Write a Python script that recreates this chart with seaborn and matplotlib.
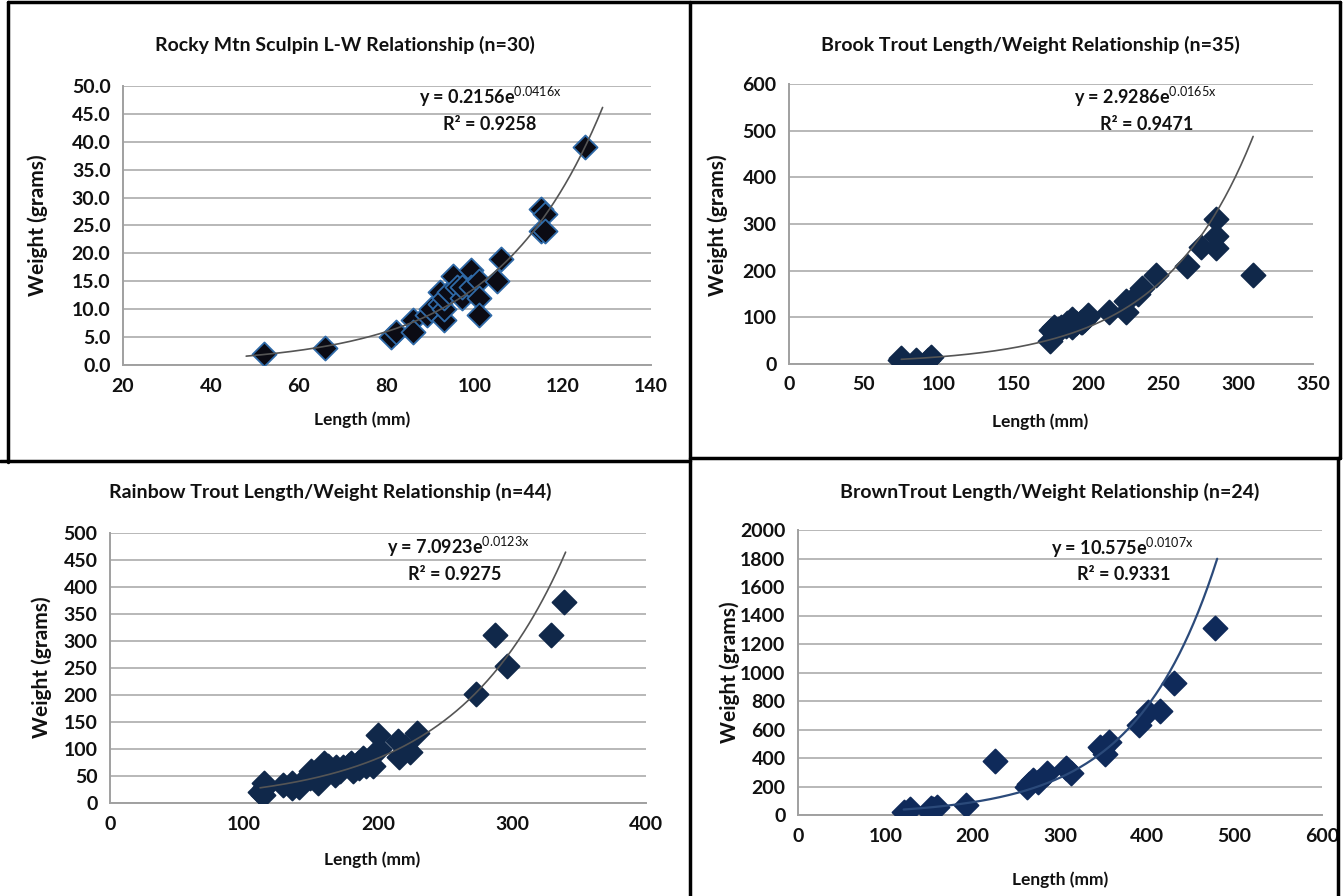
import numpy as np
import pandas as pd
import matplotlib
matplotlib.use("Agg")
import matplotlib.pyplot as plt
import seaborn as sns
from matplotlib.lines import Line2D

# Rocky Mtn Sculpin (n=30)
sculpin_len = [52, 66, 81, 82, 86, 86, 89, 90, 92, 92, 93, 93, 93, 94, 95, 96, 97, 97, 99, 99,
               101, 101, 101, 105, 106, 115, 115, 116, 116, 125]
sculpin_wt = [2, 3, 5, 6, 8, 6, 9, 10, 13, 11, 8, 10, 12, 13, 16, 14, 12, 14, 17, 14,
              15, 12, 9, 15, 19, 28, 24, 27, 24, 39]

# Brook Trout (n=35)
brook_len = [74, 75, 85, 93, 95, 174, 175, 177, 178, 179, 180, 182, 185, 186, 189, 189, 190, 192,
             195, 196, 197, 199, 200, 214, 225, 225, 233, 236, 245, 266, 275, 285, 285, 285, 310]
brook_wt = [9, 12, 9, 9, 15, 50, 72, 80, 65, 70, 75, 80, 82, 87, 96, 80, 85, 87,
            90, 91, 95, 101, 105, 112, 135, 112, 150, 162, 190, 210, 250, 311, 275, 248, 191]

# Rainbow Trout (n=44)
rainbow_len = [112, 114, 115, 116, 129, 136, 136, 141, 144, 146, 149, 150, 152, 154, 155, 157, 158,
               160, 163, 165, 168, 169, 172, 174, 178, 180, 181, 185, 186, 189, 191, 196, 200, 201,
               215, 216, 220, 224, 229, 273, 287, 296, 329, 339]
rainbow_wt = [20, 15, 37, 30, 34, 28, 37, 30, 40, 45, 46, 60, 55, 52, 37, 48, 62,
              74, 68, 62, 52, 66, 60, 66, 70, 74, 59, 74, 65, 83, 68, 68, 126, 100,
              114, 86, 104, 94, 130, 202, 311, 254, 312, 372]

# Brown Trout (n=24)
brown_len = [121, 128, 150, 152, 155, 159, 192, 226, 262, 265, 269, 275, 285, 307, 313, 346, 348,
             351, 356, 391, 401, 415, 431, 478]
brown_wt = [20, 40, 25, 47, 40, 54, 70, 381, 194, 215, 245, 234, 292, 327, 292, 475, 460,
            428, 515, 632, 725, 732, 924, 1310]

# Excel exponential trendlines: y = a * e^(b x), drawn over [x0, x1]
fit_a = [0.2156, 2.9286, 7.0923, 10.575]
fit_b = [0.0416, 0.0165, 0.0123, 0.0107]
fit_r2 = ["0.9258", "0.9471", "0.9275", "0.9331"]
fit_range = [(48, 129), (75, 310), (112, 340), (121, 480)]

titles = ["Rocky Mtn Sculpin L-W Relationship (n=30)",
          "Brook Trout Length/Weight Relationship (n=35)",
          "Rainbow Trout Length/Weight Relationship (n=44)",
          "BrownTrout Length/Weight Relationship (n=24)"]

sns.set_style("white")
plt.rcParams['font.family'] = ['Lato', 'DejaVu Sans']
plt.rcParams['mathtext.fontset'] = 'custom'
plt.rcParams['mathtext.rm'] = 'Lato'

W, H = 1343, 896
fig = plt.figure(figsize=(W / 100, H / 100), dpi=100)


def box(l, t, r, b):
    return [l / W, 1 - b / H, (r - l) / W, (b - t) / H]


# pixel boxes of plot areas and text anchors
panels = [
    dict(x=sculpin_len, y=sculpin_wt, ax=box(123, 86, 651, 365), xlim=(20, 140), xstep=20,
         ylim=(0, 50), ystep=5, yfmt="{:.1f}", title=(345, 45), xlab=(362, 420), ylab=(38, 225),
         eq=(490, 97), r2=(490, 124), face="#0b0b14", edge="#2f6aa8", line="#555555"),
    dict(x=brook_len, y=brook_wt, ax=box(789, 84, 1313, 364), xlim=(0, 350), xstep=50,
         ylim=(0, 600), ystep=100, yfmt="{:.0f}", title=(1030, 45), xlab=(1040, 422), ylab=(718, 225),
         eq=(1145, 97), r2=(1147, 124), face="#10284a", edge="#10284a", line="#555555"),
    dict(x=rainbow_len, y=rainbow_wt, ax=box(110, 533, 646, 803), xlim=(0, 400), xstep=100,
         ylim=(0, 500), ystep=50, yfmt="{:.0f}", title=(330, 492), xlab=(372, 860), ylab=(42, 667),
         eq=(458, 547), r2=(455, 575), face="#10284a", edge="#10284a", line="#555555"),
    dict(x=brown_len, y=brown_wt, ax=box(798, 530, 1322, 815), xlim=(0, 600), xstep=100,
         ylim=(0, 2000), ystep=200, yfmt="{:.0f}", title=(1050, 492), xlab=(1060, 880), ylab=(730, 672),
         eq=(1122, 548), r2=(1124, 575), face="#0f2a5a", edge="#0f2a5a", line="#2b4a7a"),
]

for i, p in enumerate(panels):
    ax = fig.add_axes(p["ax"])
    df = pd.DataFrame({"length": p["x"], "weight": p["y"]})
    x0, x1 = fit_range[i]
    xs = np.linspace(x0, x1, 200)
    trend = pd.DataFrame({"length": xs, "weight": fit_a[i] * np.exp(fit_b[i] * xs)})

    sns.scatterplot(data=df, x="length", y="weight", marker="D", s=150, color=p["face"],
                    edgecolor=p["edge"], linewidth=1.3, ax=ax, zorder=3)
    sns.lineplot(data=trend, x="length", y="weight", color=p["line"], lw=1.2 if i < 3 else 1.6,
                 ax=ax, zorder=4)

    ax.set_xlim(*p["xlim"])
    ax.set_ylim(*p["ylim"])
    ax.set_xticks(np.arange(p["xlim"][0], p["xlim"][1] + 1, p["xstep"]))
    yt = np.arange(p["ylim"][0], p["ylim"][1] + 0.001, p["ystep"])
    ax.set_yticks(yt)
    ax.set_yticklabels([p["yfmt"].format(v) for v in yt])
    ax.grid(axis="y", color="#b8b8b8", lw=1.4)
    ax.set_axisbelow(True)
    for s in ["top", "right"]:
        ax.spines[s].set_visible(False)
    for s in ["left", "bottom"]:
        ax.spines[s].set_color("#a0a0a0")
        ax.spines[s].set_linewidth(1.4)
    ax.tick_params(axis="both", direction="out", length=5, width=1.2, color="#a0a0a0",
                   labelsize=14, pad=4)
    for lab in ax.get_xticklabels() + ax.get_yticklabels():
        lab.set_fontweight("bold")
        lab.set_color("#111111")
    ax.set_xlabel("")
    ax.set_ylabel("")

    fig.text(p["title"][0] / W, 1 - p["title"][1] / H, titles[i], ha="center", va="center",
             fontsize=14, fontweight="bold", color="#111111")
    fig.text(p["xlab"][0] / W, 1 - p["xlab"][1] / H, "Length (mm)", ha="center", va="center",
             fontsize=12.5, fontweight="bold", color="#111111")
    fig.text(p["ylab"][0] / W, 1 - p["ylab"][1] / H, "Weight (grams)", ha="center", va="center",
             rotation=90, fontsize=15, fontweight="bold", color="#111111")
    eq = "y = {}e$^{{\\mathrm{{{}x}}}}$".format(fit_a[i], fit_b[i])
    fig.text(p["eq"][0] / W, 1 - p["eq"][1] / H, eq, ha="center", va="center",
             fontsize=13, fontweight="bold", color="#111111")
    fig.text(p["r2"][0] / W, 1 - p["r2"][1] / H, "R\u00b2 = " + fit_r2[i], ha="center", va="center",
             fontsize=13, fontweight="bold", color="#111111")

# black panel borders
frame = [((8, 2), (1340, 2)), ((8, 2), (8, 462)), ((1340, 2), (1340, 458)),
         ((690, 2), (690, 896)), ((0, 461), (690, 461)), ((690, 458), (1340, 458)),
         ((1338, 458), (1338, 896))]
for (xa, ya), (xb, yb) in frame:
    fig.add_artist(Line2D([xa / W, xb / W], [1 - ya / H, 1 - yb / H], color="black", lw=2.5,
                          transform=fig.transFigure))

fig.savefig("out.png", dpi=100, facecolor="white")
